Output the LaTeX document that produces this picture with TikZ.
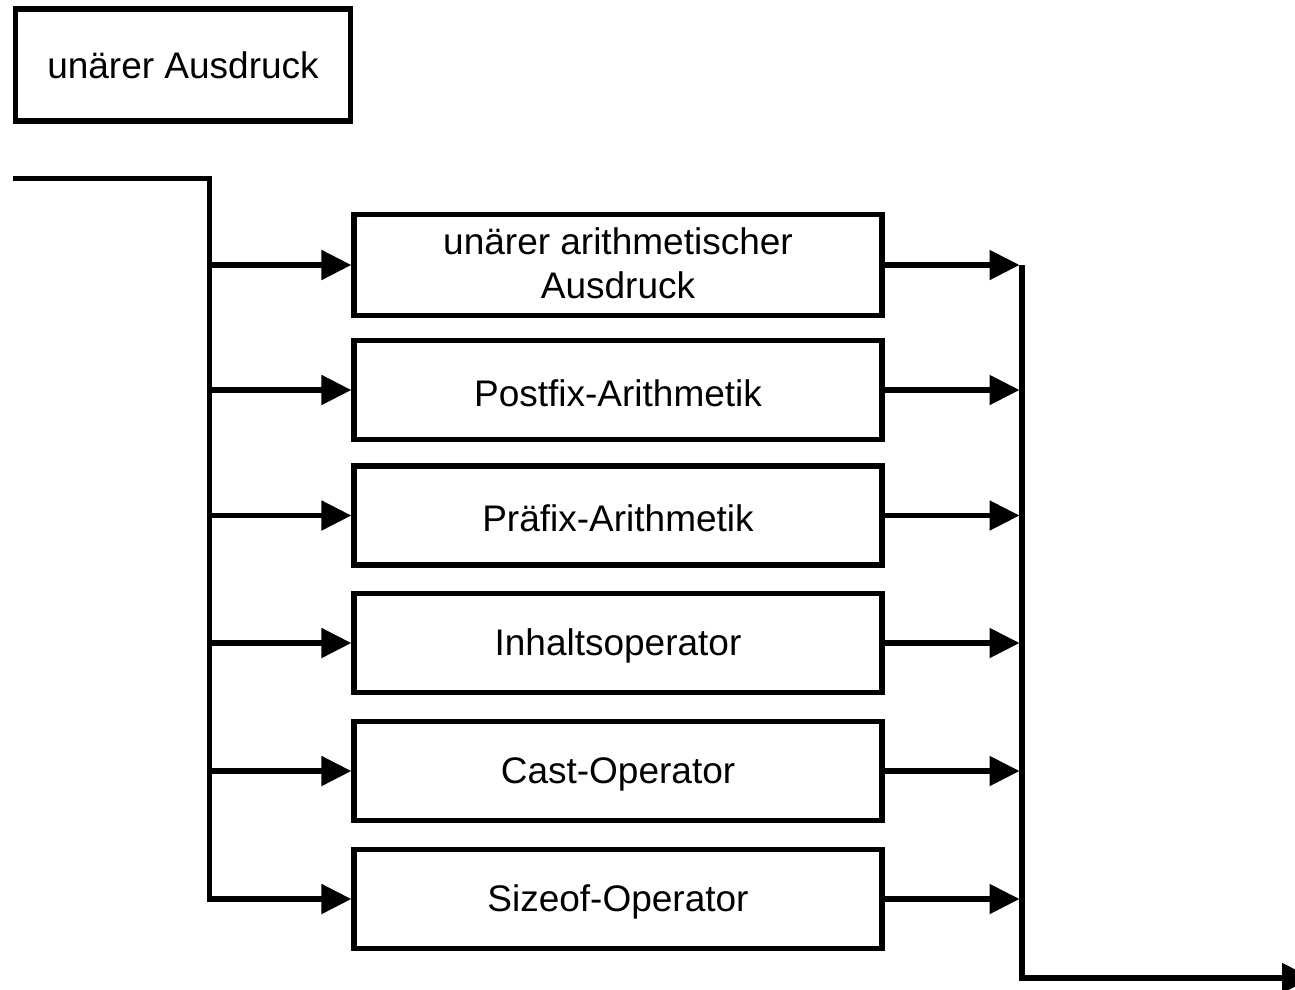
\documentclass[tikz,border=0pt]{standalone}
\usepackage{fontspec}
\setmainfont{Liberation Sans}
\usetikzlibrary{arrows.meta}
\newcommand{\lwr}[2][-3pt]{\raisebox{#1}[\height][\depth]{#2}}
\begin{document}
\begin{tikzpicture}[x=1pt,y=-1pt,
  line width=5.3pt, line join=miter,
  box/.style={draw, line width=5.3pt, minimum width=528pt, minimum height=99pt, inner sep=0pt, align=center, font=\fontsize{37}{44}\selectfont},
  arr/.style={-{Triangle[length=30pt,width=29pt]}}]
\useasboundingbox (0,0) rectangle (1295,989);
\clip (0,0) rectangle (1295,989);
\node[box, minimum width=335pt, minimum height=112pt] (title) at (183,65) {\lwr[-0.5pt]{unärer Ausdruck}};
\node[box, minimum height=101pt] (b1) at (618,265) {\lwr{\begin{tabular}{@{}c@{}}unärer arithmetischer\\Ausdruck\end{tabular}}};
\node[box] (b2) at (618,390) {\lwr{Postfix-Arithmetik}};
\node[box] (b3) at (618,515.5) {\lwr{Präfix-Arithmetik}};
\node[box] (b4) at (618,643) {\lwr{Inhaltsoperator}};
\node[box] (b5) at (618,771) {\lwr{Cast-Operator}};
\node[box] (b6) at (618,899) {\lwr{Sizeof-Operator}};
\coordinate (start) at (13,178.5);
\coordinate (lt) at (209.5,178.5);
\coordinate (rt) at (1022,265);
\coordinate (rb) at (1022,978);
\coordinate (end) at (1312,978);
\coordinate (rin) at (1019.5,265);
% left bus
\draw[arr] (start) -- (lt) -- (lt |- b6.west) -- (b6.west);
\foreach \b in {b1,b2,b3,b4,b5}{
  \draw[arr] (lt |- \b.west) -- (\b.west);
}
% right bus
\draw[arr] (rt) -- (rb) -- (end);
\foreach \b in {b1,b2,b3,b4,b5,b6}{
  \draw[arr] (\b.east) -- (rin |- \b.east);
}
\end{tikzpicture}
\end{document}
